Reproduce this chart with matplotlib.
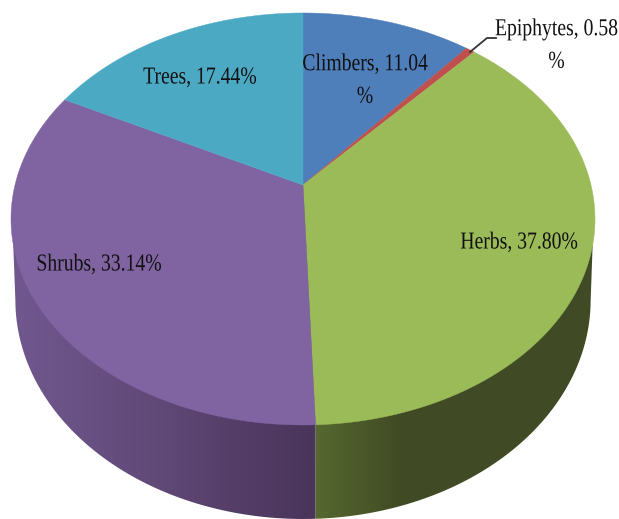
import numpy as np
import matplotlib
matplotlib.use("Agg")
import matplotlib.pyplot as plt
from matplotlib.patches import Polygon
from matplotlib.patheffects import AbstractPathEffect
from matplotlib.transforms import Affine2D

# Pie data, clockwise from 12 o'clock
categories = ["Climbers", "Epiphytes", "Herbs", "Shrubs", "Trees"]
shares = [11.04, 0.58, 37.80, 33.14, 17.44]
top_colors = ["#4F7FBB", "#C0504D", "#9BBB59", "#8064A2", "#4BA9C4"]

# Side wall shading, as (screen x, colour) stops
side_stops = {
    "Herbs": ([316, 400, 600], ["#566830", "#414B25", "#404A24"]),
    "Shrubs": ([15, 150, 316], ["#70588F", "#614A78", "#49345A"]),
}

# Projection of the pie top (pixels)
CX, CY = 303, 185
A, B, K = 288, 200.4, 0.165
WALL_START_Y = 245  # where the wall leaves the rim at both sides


def top_xy(theta):
    u, v = np.sin(theta), np.cos(theta)
    w = 1 + K * v
    return CX + A * u / w, CY - B * v / w


def bottom_xy(theta):
    x, y = top_xy(theta)
    # keeps the seam under the slice edge vertical
    return x, 300 + 1.063 * (y - 219)


def wall_outline(t0, t1):
    # keep the rim below the widest point only, the rest sits under the top
    t = np.linspace(t0, t1, 400)
    bx, by = bottom_xy(t)
    bx = CX + 0.985 * (bx - CX) + 0.015 * (top_xy(np.pi)[0] - CX)
    tx, ty = top_xy(t)
    keep = by >= 300
    rim = np.argmin(np.abs(ty - WALL_START_Y))
    if t[rim] < np.pi:  # right side, arc runs towards the bottom, seam at its end
        xs = np.r_[tx[rim], bx[keep], tx[-1]]
        ys = np.r_[ty[rim], by[keep], ty[-1]]
    else:  # left side, arc runs up from the bottom, seam at its start
        xs = np.r_[tx[0], bx[keep], tx[rim]]
        ys = np.r_[ty[0], by[keep], ty[rim]]
    return np.c_[np.r_[xs, CX], np.r_[ys, CY]]


# Squeezes the glyphs sideways, the labels in the source are narrow
class Squeeze(AbstractPathEffect):
    def __init__(self, x0, sx):
        super().__init__()
        self.x0, self.sx = x0, sx

    def draw_path(self, renderer, gc, tpath, affine, rgbFace=None):
        squeeze = Affine2D().translate(-self.x0, 0).scale(self.sx, 1).translate(self.x0, 0)
        renderer.draw_path(gc, tpath, affine + squeeze, rgbFace)


fig = plt.figure(figsize=(6.19, 5.19), dpi=100)
ax = fig.add_axes([0, 0, 1, 1])

edges = np.cumsum([0] + shares) / 100 * 2 * np.pi

# side walls first, a gradient image clipped to each wall
for i, name in enumerate(categories):
    if name not in side_stops:
        continue
    xs, cols = side_stops[name]
    rgb = np.array([matplotlib.colors.to_rgb(c) for c in cols])
    px = np.arange(0, 620)
    grad = np.stack([np.interp(px, xs, rgb[:, k]) for k in range(3)], axis=-1)[None, :, :]
    wall = Polygon(wall_outline(edges[i], edges[i + 1]), closed=True, transform=ax.transData)
    im = ax.imshow(grad, extent=[0, 619, 519, 0], aspect="auto", interpolation="bilinear", zorder=2)
    im.set_clip_path(wall)

ax.set_xlim(0, 619)
ax.set_ylim(519, 0)
ax.axis("off")

# top of the pie
for i, color in enumerate(top_colors):
    t = np.linspace(edges[i], edges[i + 1], 200)
    x, y = top_xy(t)
    ax.fill(np.r_[CX, x], np.r_[CY, y], color=color, lw=0.3, zorder=3)

# leader line for the small slice
ax.plot([470, 487, 496], [52, 38, 38], color="#333333", lw=1.3, zorder=4)

labels = [
    f"Climbers, {shares[0]:.2f}\n%",
    f"Epiphytes, {shares[1]:.2f}\n%",
    f"Herbs, {shares[2]:.2f}%",
    f"Shrubs, {shares[3]:.2f}%",
    f"Trees, {shares[4]:.2f}%",
]
label_x = [365, 618, 519, 99, 200]
label_y = [81, 46, 243, 265, 78]
label_ha = ["center", "right", "center", "center", "center"]

for s, x, y, ha in zip(labels, label_x, label_y, label_ha):
    txt = ax.text(x, y, s, ha=ha, va="center", multialignment="center", fontsize=17.5,
                  color="#111111", family="Liberation Serif", linespacing=1.72, zorder=5)
    txt.set_path_effects([Squeeze(x, 0.81)])

fig.savefig("out.png", dpi=100, facecolor="white")
